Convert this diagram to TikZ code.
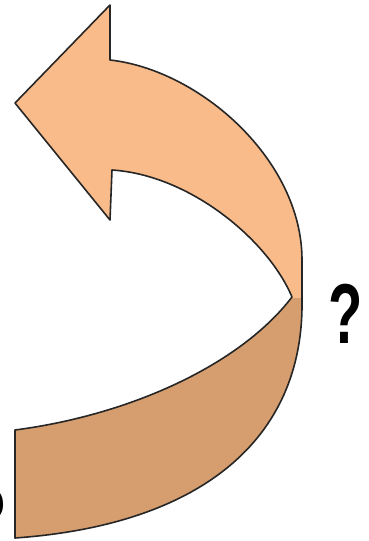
\documentclass[tikz,border=0pt]{standalone}
\usepackage{fontspec}
\newfontfamily\qfont{Liberation Sans}
\usepackage{tikz}
\definecolor{bandlight}{RGB}{249,187,138}
\definecolor{banddark}{RGB}{214,158,111}
\newcommand{\twistband}{(292,297) .. controls (268,240) and (190,175) .. (112,170)
  -- (110,220) -- (15,103) -- (110,5) -- (110,60)
  .. controls (200,70) and (302,160) .. (302,260) -- (302,300)
  .. controls (304,440) and (200,525) .. (15,538) -- (15,430)
  .. controls (130,415) and (240,365) .. cycle}

\begin{document}
\begin{tikzpicture}[x=1pt,y=-1pt,
  edge/.style={line width=1.6pt,black!85,line join=round},
  qmark/.style={font=\qfont\bfseries\fontsize{85}{85}\selectfont,inner sep=0pt}]
  \useasboundingbox (0,0) rectangle (368,541);
  \clip (0,0) rectangle (368,541);
  % twisted band: dark lower half, light upper half
  \fill[banddark] \twistband;
  \begin{scope}
    \clip (0,0) rectangle (368,297.5);
    \fill[bandlight] \twistband;
  \end{scope}
  \draw[edge] \twistband;
  % question marks
  \node[qmark] (qright) at (346,314) {\scalebox{0.66}[1]{?}};
  \node[qmark] (qleft) at (-10,518) {\scalebox{0.66}[1]{?}};
\end{tikzpicture}
\end{document}
